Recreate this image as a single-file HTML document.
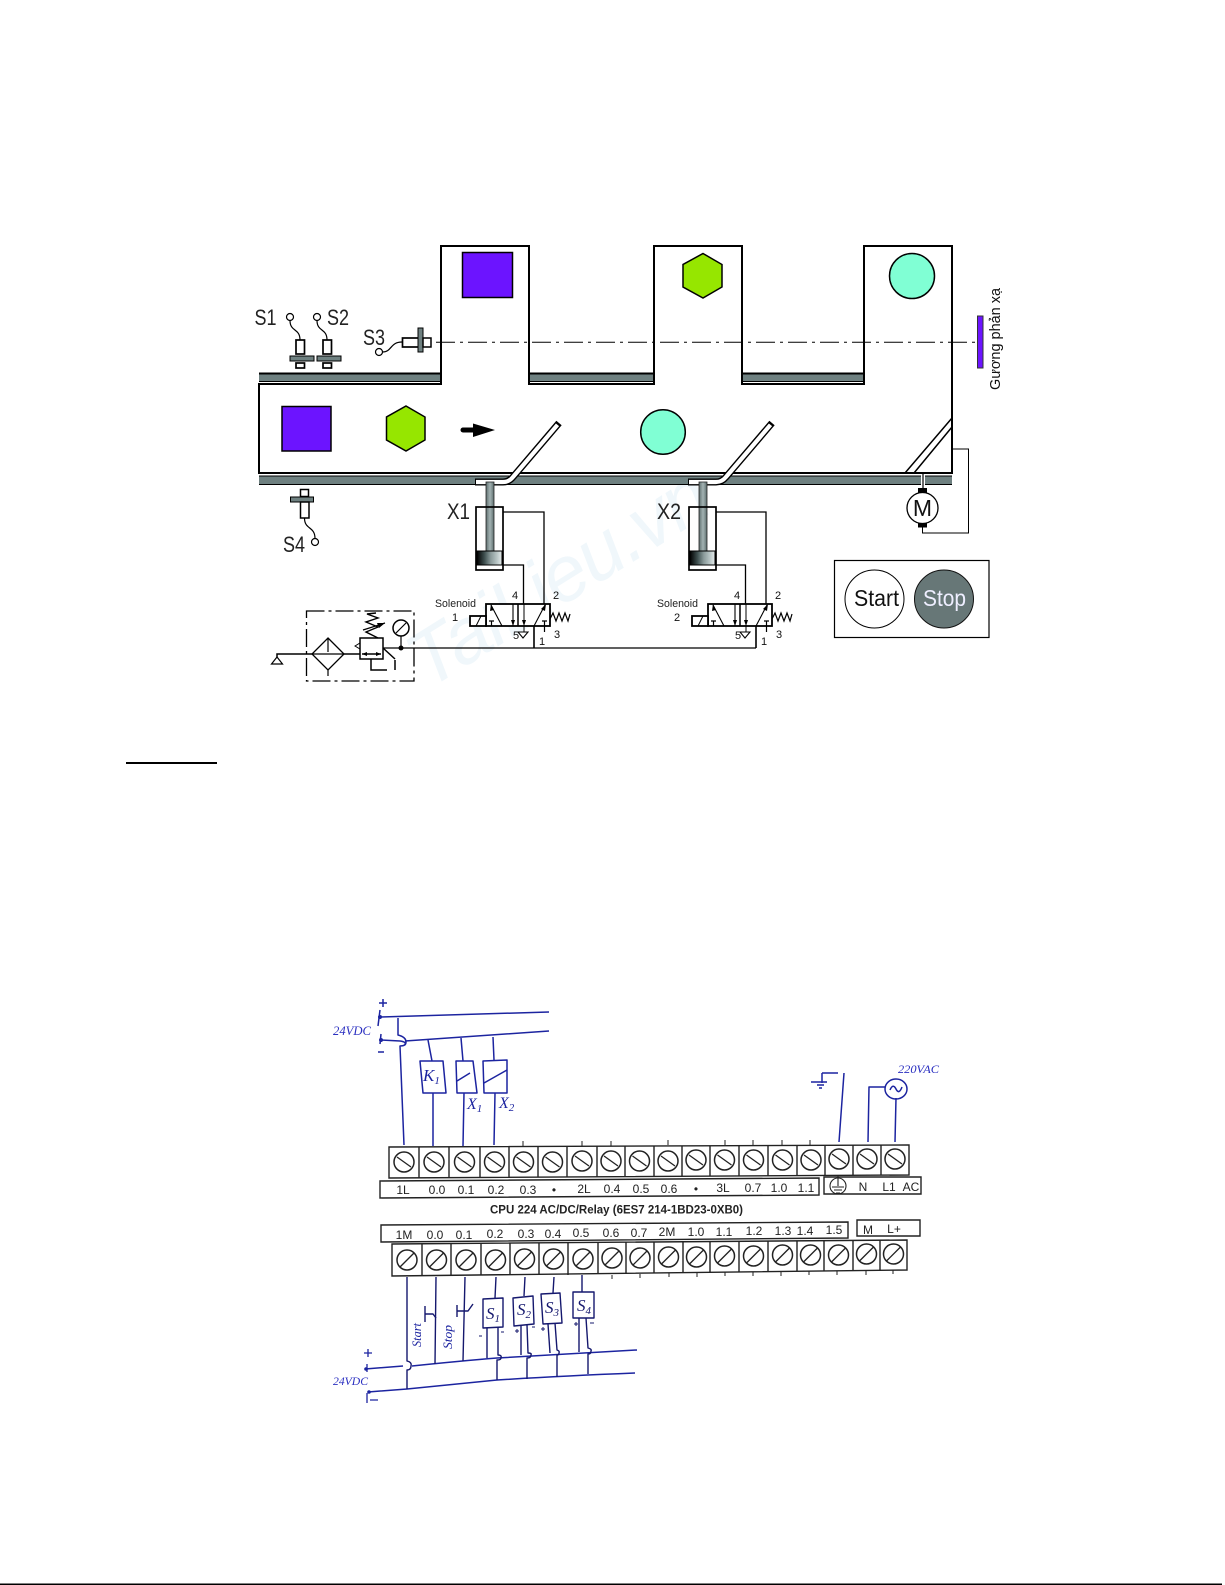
<!DOCTYPE html>
<html><head><meta charset="utf-8"><style>html,body{margin:0;padding:0;background:#fff}svg{display:block}text{font-family:"Liberation Sans",sans-serif}</style></head><body>
<svg width="1225" height="1585" viewBox="0 0 1225 1585" xmlns="http://www.w3.org/2000/svg">
<defs>
<linearGradient id="pg" x1="0" x2="1" y1="0" y2="0"><stop offset="0" stop-color="#000"/><stop offset=".3" stop-color="#3f5050"/><stop offset=".55" stop-color="#8a9a9a"/><stop offset=".8" stop-color="#b9c6c6"/><stop offset="1" stop-color="#e6ecec"/></linearGradient>
<linearGradient id="rg" x1="0" x2="1" y1="0" y2="0"><stop offset="0" stop-color="#5f7070"/><stop offset=".5" stop-color="#a3b2b2"/><stop offset="1" stop-color="#5f7070"/></linearGradient>
<g id="t1"><circle r="10" fill="none" stroke="#222" stroke-width="1.500"/><line x1="-7" y1="-5" x2="7" y2="5" stroke="#222" stroke-width="1.300"/></g>
<g id="t2"><circle r="10" fill="none" stroke="#222" stroke-width="1.500"/><line x1="-7" y1="7" x2="7" y2="-7" stroke="#222" stroke-width="1.300"/></g>
<g id="sen"><rect x="0" y="0" width="8.500" height="14" fill="#fff" stroke="#000" stroke-width="1.700"/><rect x="-6" y="16" width="24" height="5" fill="#6e8080" stroke="#000" stroke-width="1"/><rect x="0" y="23" width="8.500" height="5" fill="#fff" stroke="#000" stroke-width="1.700"/></g>
<g id="valve">
<rect x="486" y="604" width="64" height="22" fill="#fff" stroke="#000" stroke-width="1.800"/>
<rect x="470" y="616" width="16" height="10" fill="#fff" stroke="#000" stroke-width="1.800"/>
<line x1="476" y1="626" x2="481" y2="616" stroke="#000"/>
<line x1="518" y1="604" x2="518" y2="626" stroke="#000" stroke-width="1.500"/>
<path d="M491 605L502 626M534 626L545 605M513 604V626" stroke="#000" fill="none" stroke-width="1.100"/>
<path d="M491 604l3 6l-4 1zM546 604l-1 7l-4-2zM513 626l-2-6h4zM524 626l-2-6h4z" fill="#000"/>
<path d="M489 621h5M491.500 621v5M542 621h5M544.500 621v11" stroke="#000" stroke-width="1.200" fill="none"/>
<path d="M518 632h10l-5 6z" fill="#fff" stroke="#000" stroke-width="1.100"/>
<line x1="524" y1="604" x2="524" y2="632" stroke="#000" stroke-width="1"/>
<polyline points="550,619 553,613 556,621 559,613 562,621 565,613 568,621 570,614" fill="none" stroke="#000" stroke-width="1.200"/>
<line x1="534" y1="626" x2="534" y2="648" stroke="#000" stroke-width="1.600"/>
<text x="435" y="607" font-size="11" textLength="41" lengthAdjust="spacingAndGlyphs" fill="#222">Solenoid</text>
<text x="512" y="599" font-size="11" fill="#111">4</text>
<text x="553" y="599" font-size="11" fill="#111">2</text>
<text x="513" y="639" font-size="11" fill="#111">5</text>
<text x="554" y="638" font-size="11" fill="#111">3</text>
<text x="539" y="645" font-size="11" fill="#111">1</text>
</g>
<g id="cyl">
<rect x="486" y="482" width="8" height="70" fill="url(#rg)" stroke="#222" stroke-width=".8"/>
<rect x="476" y="507" width="27" height="63" fill="none" stroke="#000" stroke-width="1.700"/>
<rect x="477" y="551" width="25" height="14" fill="url(#pg)" stroke="#000" stroke-width="1"/>
</g>
</defs>
<rect width="1225" height="1585" fill="#fff"/>

<!-- watermark -->
<text transform="translate(428,690) rotate(-32)" font-size="78" fill="#f0f7fb" textLength="340" font-style="italic">TaiLieu.vn</text>

<!-- conveyor rails -->
<g fill="#6e8080" stroke="none">
<rect x="259" y="374" width="182" height="7"/><rect x="529" y="374" width="125" height="7" /><rect x="742" y="374" width="122" height="7"/>
<rect x="259" y="476" width="662" height="8"/><rect x="925" y="476" width="27" height="8"/>
</g>
<g fill="none" stroke="#000">
<path d="M259 373.500H441M529 373.500H654M742 373.500H864" stroke-width="2"/>
<path d="M259 381.500H441M529 381.500H654M742 381.500H864" stroke-width="1"/>
<path d="M259 484.500H921M925 484.500H952M259 476H921M925 476H952" stroke-width="1"/>
<path d="M259 384H441V246H529V384H654V246H742V384H864V246H952V473H259Z" stroke-width="2"/>
<path d="M441 384V373M529 384V373M654 384V373M742 384V373" stroke-width="1.700"/>
</g>
<!-- objects -->
<g stroke="#000" stroke-width="1.500">
<rect x="462.500" y="252.500" width="50" height="45" fill="#6c14ff"/>
<rect x="282" y="406.500" width="49" height="44.500" fill="#6c14ff"/>
<polygon points="406,406 425,417 425,440 406,451 386.500,440 386.500,417" fill="#96e600"/>
<polygon points="703,253.500 722,264.500 722,287 703,298 683,287 683,264.500" fill="#96e600"/>
<circle cx="912" cy="276" r="22.500" fill="#80ffd4"/>
<circle cx="663" cy="432" r="22.300" fill="#80ffd4"/>
</g>
<!-- beam and mirror -->
<line x1="436" y1="342.300" x2="977" y2="342.300" stroke="#000" stroke-width="1" stroke-dasharray="19 5 3 5"/>
<rect x="977.500" y="316" width="5.500" height="52" fill="#6c14ff" stroke="#333" stroke-width="1"/>
<text transform="translate(1000,390) rotate(-90)" font-size="15" textLength="102" lengthAdjust="spacingAndGlyphs" fill="#111">Gương phản xạ</text>

<!-- arrow -->
<path d="M463 430H476" stroke="#000" stroke-width="5" stroke-linecap="round"/>
<polygon points="473,423.500 495,430 473,437" fill="#000"/>

<!-- diverters -->
<g fill="none" stroke-linejoin="miter">
<path d="M475 482H503Q509 482 513 477L559 423" stroke="#000" stroke-width="7"/>
<path d="M476 482H503Q509 482 513 477L557.500 424.800" stroke="#fff" stroke-width="4.200"/>
<path d="M688 482H716Q722 482 726 477L772 423" stroke="#000" stroke-width="7"/>
<path d="M689 482H716Q722 482 726 477L770.500 424.800" stroke="#fff" stroke-width="4.200"/>
<path d="M905 473L952 418M914 473L952 427" stroke="#000" stroke-width="1.500"/>
</g>

<!-- sensors -->
<use href="#sen" x="296" y="340"/><use href="#sen" x="323" y="340"/>
<g fill="none" stroke="#000" stroke-width="1.200">
<circle cx="290" cy="317" r="3.500"/><circle cx="317" cy="317" r="3.500"/>
<path d="M290 320.500C290 332 300 328 300 340M317 320.500C317 332 327 328 327 340"/>
<circle cx="379" cy="352" r="3.500"/><path d="M382.500 352C392 352 390 342 402 342"/>
<circle cx="315" cy="542" r="3.500"/><path d="M304.500 518C304.500 530 315 526 315 538.500"/>
</g>
<rect x="402.500" y="338" width="16" height="9" fill="#fff" stroke="#000" stroke-width="1.700"/>
<rect x="418" y="328" width="5" height="24" fill="#6e8080" stroke="#000"/>
<rect x="423" y="338" width="8" height="9" fill="#fff" stroke="#000" stroke-width="1.500"/>
<rect x="300.500" y="489.500" width="8" height="7" fill="#fff" stroke="#000" stroke-width="1.500"/>
<rect x="290.500" y="497" width="23" height="5" fill="#6e8080" stroke="#000"/>
<rect x="300.500" y="502" width="8.500" height="16" fill="#fff" stroke="#000" stroke-width="1.500"/>
<g font-size="22" fill="#222">
<text x="254.500" y="325" textLength="22" lengthAdjust="spacingAndGlyphs">S1</text>
<text x="327" y="325" textLength="22" lengthAdjust="spacingAndGlyphs">S2</text>
<text x="363" y="345" textLength="22" lengthAdjust="spacingAndGlyphs">S3</text>
<text x="283" y="552" textLength="22" lengthAdjust="spacingAndGlyphs">S4</text>
<text x="447" y="519" textLength="23" lengthAdjust="spacingAndGlyphs">X1</text>
<text x="657" y="519" textLength="24" lengthAdjust="spacingAndGlyphs">X2</text>
</g>

<!-- cylinders -->
<use href="#cyl"/><use href="#cyl" x="213"/>
<path d="M503 512H544V605M503 565H523.500V626" fill="none" stroke="#000" stroke-width="1.300"/>
<path d="M716 512H766V605M716 565H745.500V626" fill="none" stroke="#000" stroke-width="1.300"/>

<!-- valves -->
<use href="#valve"/><use href="#valve" x="222"/>
<text x="452" y="621" font-size="11" fill="#111">1</text>
<text x="674" y="621" font-size="11" fill="#111">2</text>

<!-- FRL -->
<line x1="383" y1="648" x2="756" y2="648" stroke="#000" stroke-width="1.200"/>
<rect x="306.500" y="611" width="107.500" height="70" fill="none" stroke="#000" stroke-width="1.300" stroke-dasharray="18 4 3 4"/>
<g fill="none" stroke="#000" stroke-width="1.500">
<path d="M277 657V654H312M344 654H360"/>
<polygon points="277,657 271.500,664 282.500,664" stroke-width="1.200"/>
<polygon points="328,638 344,654 328,670 312,654" stroke-width="1.300" fill="#fff"/>
<path d="M312 654H344M328 638V652M328 670V676" stroke-width="1.200"/>
<rect x="360" y="638" width="23" height="21" fill="#fff"/>
<path d="M362 654H381"/>
<polygon points="355,646 360,643 360,649" stroke-width="1"/>
<polyline points="378,638 366,632 378,627 366,622 378,618 367,614 376,613" stroke-width="1.400"/>
<path d="M363 630L385 623" stroke-width="1.200"/>
<path d="M371 659V670H387M383 648L395 659M395 660V670"/>
<circle cx="401" cy="628" r="8"/>
<path d="M396 633L406 623M401 636V648" stroke-width="1.200"/>
</g>
<path d="M385 623l-8 0l2 5zM362 654l5-2v4zM381 654l-5-2v4z" fill="#000"/>
<circle cx="401" cy="648" r="2.500" fill="#000"/>

<!-- motor -->
<path d="M923 473V488" stroke="#000" stroke-width="1.200" fill="none"/>
<rect x="918" y="488" width="9" height="4.500" fill="#000"/>
<rect x="918" y="523" width="9" height="4.500" fill="#000"/>
<circle cx="922.500" cy="508" r="15.500" fill="#fff" stroke="#000" stroke-width="1.300"/>
<text x="922.500" y="516" font-size="23" text-anchor="middle" fill="#111">M</text>
<path d="M952 449H968.500V533H922.500V527" fill="none" stroke="#000" stroke-width="1"/>

<!-- start/stop -->
<rect x="834.500" y="560.500" width="154.500" height="77" fill="none" stroke="#000" stroke-width="1.200"/>
<ellipse cx="874.500" cy="599" rx="29.500" ry="29" fill="#fff" stroke="#000"/>
<ellipse cx="944" cy="599" rx="29.500" ry="29" fill="#677777" stroke="#111"/>
<text x="854" y="606" font-size="23" textLength="45" lengthAdjust="spacingAndGlyphs" fill="#111">Start</text>
<text x="923" y="606" font-size="23" textLength="43" lengthAdjust="spacingAndGlyphs" fill="#eef">Stop</text>

<!-- underline and bottom rule -->
<rect x="126" y="762" width="91" height="2" fill="#000"/>
<rect x="0" y="1583.500" width="1222" height="1.500" fill="#000"/>

<!-- PLC terminals -->
<g fill="none" stroke="#222" stroke-width="1.400">
<polygon points="389,1147 909,1145 909,1175 389,1178"/>
<path d="M419 1147V1178M449 1147V1178M480 1147V1178M509 1147V1178M538 1147V1177M567 1147V1177M597 1146V1177M625 1146V1177M654 1146V1177M682 1146V1176M710 1146V1176M739 1146V1176M768 1146V1176M797 1146V1176M825 1145V1175M853 1145V1175M881 1145V1175"/>
<polygon points="392,1244 907,1240 907,1270 392,1276"/>
<path d="M422 1244V1276M451 1244V1276M481 1243V1275M510 1243V1275M539 1243V1275M568 1243V1275M598 1242V1274M626 1242V1274M654 1242V1273M683 1242V1273M710 1241V1273M739 1241V1272M768 1241V1272M797 1241V1271M824 1240V1271M853 1240V1271M880 1240V1270"/>
<polygon points="380,1181 819,1178 819,1195 380,1198"/>
<polygon points="824,1177 921,1177 921,1194 824,1194"/>
<polygon points="381,1225 848,1222 848,1238 381,1242"/>
<polygon points="857,1220 920,1220 920,1236 857,1236"/>
</g>
<use href="#t1" x="404" y="1162"/><use href="#t1" x="434" y="1162"/><use href="#t1" x="464.500" y="1162"/><use href="#t1" x="494.500" y="1162"/><use href="#t1" x="523.500" y="1162"/><use href="#t1" x="552.500" y="1162"/><use href="#t1" x="582" y="1161"/><use href="#t1" x="611" y="1161"/><use href="#t1" x="639.500" y="1161"/><use href="#t1" x="668" y="1161"/><use href="#t1" x="696" y="1160"/><use href="#t1" x="724.500" y="1160"/><use href="#t1" x="753.500" y="1160"/><use href="#t1" x="782.500" y="1160"/><use href="#t1" x="811" y="1160"/><use href="#t1" x="839" y="1159"/><use href="#t1" x="867" y="1159"/><use href="#t1" x="895" y="1159"/>
<use href="#t2" x="407" y="1260"/><use href="#t2" x="436.500" y="1260"/><use href="#t2" x="466" y="1260"/><use href="#t2" x="495.500" y="1260"/><use href="#t2" x="524.500" y="1259"/><use href="#t2" x="553.500" y="1259"/><use href="#t2" x="583" y="1259"/><use href="#t2" x="612" y="1258"/><use href="#t2" x="640" y="1258"/><use href="#t2" x="668.500" y="1257"/><use href="#t2" x="696.500" y="1257"/><use href="#t2" x="724.500" y="1256"/><use href="#t2" x="753.500" y="1256"/><use href="#t2" x="782.500" y="1255"/><use href="#t2" x="810.500" y="1255"/><use href="#t2" x="838.500" y="1255"/><use href="#t2" x="866.500" y="1254"/><use href="#t2" x="893.500" y="1254"/>
<path d="M523 1141V1146M582 1141V1146M611 1141V1146M668 1140V1145M725 1140V1145M753 1140V1145M782 1140V1145M810 1140V1145M612 1275V1279M640 1274V1278M669 1273V1277M697 1273V1277M725 1272V1276M753 1272V1276M781 1272V1276M809 1271V1275M837 1271V1275M866 1271V1275M893 1270V1274" stroke="#222" stroke-width="1"/>

<!-- PLC labels -->
<g font-size="12" fill="#222" text-anchor="middle">
<text x="403" y="1194">1L</text><text x="437" y="1194">0.0</text><text x="466" y="1194">0.1</text><text x="496" y="1194">0.2</text><text x="528" y="1194">0.3</text><text x="554" y="1194">•</text><text x="584" y="1193">2L</text><text x="612" y="1193">0.4</text><text x="641" y="1193">0.5</text><text x="669" y="1193">0.6</text><text x="696" y="1193">•</text><text x="723" y="1192">3L</text><text x="753" y="1192">0.7</text><text x="779" y="1192">1.0</text><text x="806" y="1192">1.1</text>
<text x="863" y="1191">N</text><text x="889" y="1191">L1</text><text x="911" y="1191">AC</text>
<text x="404" y="1239">1M</text><text x="435" y="1239">0.0</text><text x="464" y="1239">0.1</text><text x="495" y="1238">0.2</text><text x="526" y="1238">0.3</text><text x="553" y="1238">0.4</text><text x="581" y="1237">0.5</text><text x="611" y="1237">0.6</text><text x="639" y="1237">0.7</text><text x="667" y="1236">2M</text><text x="696" y="1236">1.0</text><text x="724" y="1236">1.1</text><text x="754" y="1235">1.2</text><text x="783" y="1235">1.3</text><text x="805" y="1235">1.4</text><text x="834" y="1234">1.5</text>
<text x="868" y="1234">M</text><text x="894" y="1233">L+</text>
</g>
<g fill="none" stroke="#222" stroke-width="1.100"><circle cx="838" cy="1186" r="8"/><path d="M838 1176V1186M832 1187H844M834 1190H842M836 1193H840"/></g>
<text x="490" y="1213.500" font-size="11.500" font-weight="bold" textLength="253" lengthAdjust="spacingAndGlyphs" fill="#222">CPU 224 AC/DC/Relay (6ES7 214-1BD23-0XB0)</text>

<!-- hand drawn wiring, top -->
<g fill="none" stroke="#1c24a0" stroke-width="1.500" stroke-linejoin="round">
<path d="M380 1017L549 1012"/>
<path d="M380 1040L400 1041Q407 1042 405 1045M405 1041L549 1031"/>
<path d="M398 1018V1035Q406 1037 406 1042Q406 1046 400 1046L404 1145"/>
<path d="M428 1040L432 1061M433 1093V1146M461 1038L463 1061M464 1093L463 1146M493 1037L494 1060M495 1093L494 1145"/>
<polygon points="420,1061 443,1061 446,1093 423,1093"/>
<polygon points="456,1061 473,1061 477,1093 457,1093"/>
<polygon points="483,1061 507,1060 507,1093 484,1093"/>
<path d="M457 1081L470 1073M484 1083L507 1070"/>
<path d="M380 1010L378 1026M381 1034L380 1044"/>
<path d="M379 1003H387M383 999V1007M378 1052H384"/>
<path d="M844 1073L839 1142M822 1073H838M822 1073V1083M811 1082H827M817 1085H824M819 1088H822"/>
<path d="M868 1142L869 1087H885M896 1098L895 1142"/>
<ellipse cx="896" cy="1089" rx="11" ry="10"/>
<path d="M890 1090Q893 1083 896 1089Q899 1095 902 1087"/>
</g>
<circle cx="380" cy="1017" r="2" fill="#1c24a0"/><circle cx="381" cy="1040" r="2" fill="#1c24a0"/>
<g fill="#2a2fc0" style="font-style:italic">
<text x="333" y="1035" font-size="13" textLength="38" lengthAdjust="spacingAndGlyphs" style="font-family:'Liberation Serif',serif">24VDC</text>
<text x="898" y="1073" font-size="12" textLength="41" lengthAdjust="spacingAndGlyphs" style="font-family:'Liberation Serif',serif">220VAC</text>
</g>
<g fill="#1c24a0" style="font-style:italic">
<text x="423" y="1081" font-size="17" style="font-family:'Liberation Serif',serif">K<tspan font-size="11" dy="3">1</tspan></text>
<text x="467" y="1109" font-size="16" style="font-family:'Liberation Serif',serif">X<tspan font-size="11" dy="3">1</tspan></text>
<text x="499" y="1108" font-size="16" style="font-family:'Liberation Serif',serif">X<tspan font-size="11" dy="3">2</tspan></text>
</g>

<!-- hand drawn wiring, bottom -->
<g fill="none" stroke="#1c24a0" stroke-width="1.500" stroke-linejoin="round">
<path d="M365 1369L403 1366M412 1366Q460 1361 497 1358L637 1350"/>
<path d="M368 1392L407 1389L497 1380Q560 1376 635 1373"/>
</g>
<g fill="none" stroke="#15186e" stroke-width="1.400" stroke-linejoin="round">
<path d="M407 1277V1361Q412 1362 411 1366Q411 1370 407 1370V1389"/>
<path d="M436 1277L435 1364M465 1277L463 1361"/>
<path d="M425 1306V1322M425 1314H433L436 1318M457 1305V1317M457 1311H468L473 1304"/>
<path d="M496 1277L495 1298M525 1277L524 1296M554 1277L553 1293M582 1275V1292"/>
<polygon points="483,1299 503,1298 503,1327 483,1328"/>
<polygon points="513,1298 533,1296 534,1324 514,1326"/>
<polygon points="541,1294 560,1293 562,1323 543,1324"/>
<polygon points="573,1292 594,1292 594,1318 573,1318"/>
<path d="M487 1328V1358M498 1327V1355Q502 1355 501 1358Q501 1360 497 1360V1380"/>
<path d="M521 1326V1355M527 1325L528 1353Q532 1353 531 1355Q531 1358 527 1358V1379"/>
<path d="M548 1324L550 1353M555 1323L557 1350Q560 1351 559 1353Q559 1355 557 1355V1377"/>
<path d="M579 1318V1352M586 1318L588 1348Q592 1349 591 1351Q591 1354 588 1354V1374"/>
</g>
<g fill="none" stroke="#1c24a0" stroke-width="1.300">
<path d="M368 1349V1357M364 1353H372M367 1393V1403M370 1400H378M367 1364V1372"/>
</g>
<circle cx="366" cy="1369" r="1.800" fill="#1c24a0"/><circle cx="369" cy="1392" r="1.800" fill="#1c24a0"/>
<g fill="#1c24a0" style="font-style:italic">
<text x="333" y="1385" font-size="11.500" textLength="35" lengthAdjust="spacingAndGlyphs" fill="#2a2fc0" style="font-family:'Liberation Serif',serif">24VDC</text>
<text transform="translate(421,1347) rotate(-90)" font-size="13" textLength="24" lengthAdjust="spacingAndGlyphs" style="font-family:'Liberation Serif',serif">Start</text>
<text transform="translate(452,1349) rotate(-90)" font-size="13" textLength="24" lengthAdjust="spacingAndGlyphs" style="font-family:'Liberation Serif',serif">Stop</text>
</g>
<g fill="#15186e" style="font-style:italic">
<text x="486" y="1319" font-size="17" style="font-family:'Liberation Serif',serif">S<tspan font-size="11" dy="3">1</tspan></text>
<text x="517" y="1315" font-size="17" style="font-family:'Liberation Serif',serif">S<tspan font-size="11" dy="3">2</tspan></text>
<text x="545" y="1313" font-size="17" style="font-family:'Liberation Serif',serif">S<tspan font-size="11" dy="3">3</tspan></text>
<text x="577" y="1311" font-size="17" style="font-family:'Liberation Serif',serif">S<tspan font-size="11" dy="3">4</tspan></text>
</g>
<path d="M479 1336h3M501 1332h3M515 1331h4M517 1329v4M532 1327h3M541 1329h4M543 1327v4M574 1324h4M576 1322v4M590 1323h4" stroke="#15186e" stroke-width="1" fill="none"/>
</svg>
</body></html>
